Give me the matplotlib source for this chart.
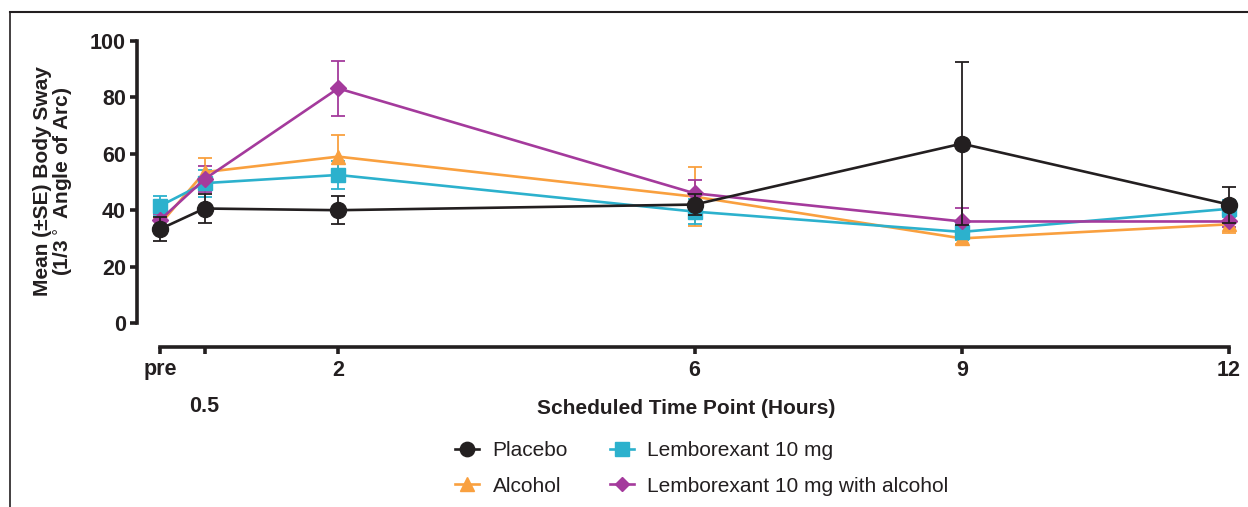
import numpy as np
import matplotlib
matplotlib.use("Agg")
import matplotlib.pyplot as plt
from matplotlib.lines import Line2D

plt.rcParams['font.family'] = ['Liberation Sans', 'DejaVu Sans']

# time points (hours); "pre" is plotted at 0
hours = [0, 0.5, 2, 6, 9, 12]
tick_labels = ['pre', '0.5', '2', '6', '9', '12']

placebo = [33.3, 40.6, 40.0, 42.0, 63.6, 42.0]
placebo_se = [4.3, 5.0, 5.0, 3.8, 28.8, 6.4]

alcohol = [35.0, 53.5, 59.0, 44.8, 30.0, 35.0]
alcohol_se = [2.0, 5.0, 7.6, 10.4, 2.0, 3.0]

lembo = [41.5, 49.6, 52.5, 39.5, 32.3, 40.5]
lembo_se = [3.5, 4.8, 5.0, 4.3, 3.0, 3.0]

lembo_alc = [36.5, 51.0, 83.2, 46.0, 36.0, 36.0]
lembo_alc_se = [2.0, 4.5, 9.7, 4.7, 4.8, 2.0]

names = ['Placebo', 'Alcohol', 'Lemborexant 10 mg', 'Lemborexant 10 mg with alcohol']
colors = ['#231f20', '#f9a03f', '#2cb1cd', '#a43a9c']
markers = ['o', '^', 's', 'D']
msizes = [11.5, 10.5, 10.5, 8]

fig = plt.figure(figsize=(12.48, 5.07), dpi=100)
W, H = 1248, 507
# axes box in pixels: left 137, right 1235, top 35, bottom 347
ax = fig.add_axes([137 / W, 1 - 347 / H, (1235 - 137) / W, (347 - 35) / H])

series = [(placebo, placebo_se), (alcohol, alcohol_se), (lembo, lembo_se), (lembo_alc, lembo_alc_se)]
# draw in this order so placebo ends on top like the original
order = [1, 2, 3, 0]
for i in order:
    vals, se = series[i]
    ax.errorbar(hours, vals, yerr=se, color=colors[i], ecolor=colors[i],
                elinewidth=1.3, capsize=5, capthick=1.3, lw=1.9,
                marker=markers[i], ms=msizes[i], mec=colors[i], mfc=colors[i],
                clip_on=False, zorder=3 if i else 4)

ax.set_xlim(-23 / 89.08, 12 + 6 / 89.08)
ax.set_ylim(-24 / 2.82, 100 + 6 / 2.82)

for s in ['top', 'right']:
    ax.spines[s].set_visible(False)
ax.spines['left'].set_bounds(0, 100)
ax.spines['bottom'].set_bounds(0, 12)
for s in ['left', 'bottom']:
    ax.spines[s].set_linewidth(2.6)
    ax.spines[s].set_color('#231f20')

ax.set_yticks([0, 20, 40, 60, 80, 100])
ax.set_xticks(hours)
ax.set_xticklabels(tick_labels)
ax.tick_params(axis='both', direction='out', length=5, width=2.6, color='#231f20',
               labelsize=15.5, labelcolor='#231f20')
for lab in ax.get_xticklabels() + ax.get_yticklabels():
    lab.set_fontweight('bold')
ax.tick_params(axis='x', pad=4)
ax.tick_params(axis='y', pad=3)
ax.xaxis.get_major_ticks()[1].set_pad(30.5)

ax.set_xlabel('Scheduled Time Point (Hours)', fontsize=15, fontweight='bold',
              color='#231f20')
ax.xaxis.set_label_coords(0.5, -0.167)
ax.set_ylabel('Mean (±SE) Body Sway\n(1/3$^\\circ$ Angle of Arc)', fontsize=15,
              fontweight='bold', color='#231f20', linespacing=1.0)
ax.yaxis.set_label_coords(-0.0565, 0.532)

handles = [Line2D([], [], color=colors[i], lw=1.9, marker=markers[i], ms=msizes[i] * 0.9)
           for i in range(4)]
fig.legend(handles, names, ncol=2, loc='upper left', bbox_to_anchor=(455 / W, 1 - 441 / H),
           frameon=False, fontsize=15, labelspacing=0.8, columnspacing=2.0,
           handlelength=1.15, handletextpad=0.65, borderpad=0, borderaxespad=0,
           labelcolor='#231f20')

# outer frame lines (top and left)
fig.add_artist(Line2D([10 / W, 1], [1 - 12 / H, 1 - 12 / H], color='#231f20', lw=1.5))
fig.add_artist(Line2D([10 / W, 10 / W], [0, 1 - 12 / H], color='#231f20', lw=1.2))

fig.savefig('out.png', dpi=100)
